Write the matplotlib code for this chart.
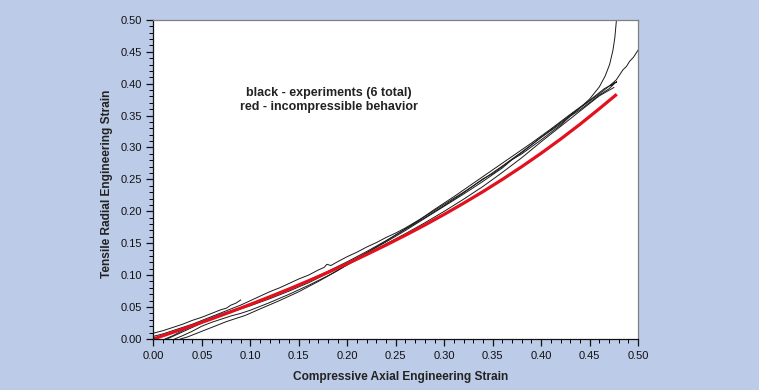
import matplotlib
matplotlib.use('Agg')
import matplotlib.pyplot as plt
from matplotlib.ticker import MultipleLocator, FormatStrFormatter

plt.rcParams['font.family'] = ['Liberation Sans', 'DejaVu Sans']

# incompressible behaviour (red)
red_x = [0.0, 0.02, 0.04, 0.06, 0.08, 0.10, 0.12, 0.14, 0.16, 0.18, 0.20, 0.22, 0.24,
         0.26, 0.28, 0.30, 0.32, 0.34, 0.36, 0.38, 0.40, 0.42, 0.44, 0.46, 0.478]
red_y = [0.0, 0.0102, 0.0206, 0.0314, 0.0426, 0.0541, 0.0660, 0.0783, 0.0911, 0.1043,
         0.1180, 0.1323, 0.1471, 0.1625, 0.1785, 0.1952, 0.2127, 0.2309, 0.2500, 0.2700,
         0.2910, 0.3131, 0.3363, 0.3608, 0.3834]

# experiments (black), 6 runs
exp1_x = [0.0, 0.01, 0.02, 0.03, 0.04, 0.05, 0.06, 0.07, 0.075, 0.08, 0.085, 0.09]
exp1_y = [0.009, 0.013, 0.018, 0.023, 0.029, 0.034, 0.040, 0.046, 0.048, 0.053, 0.056, 0.061]

exp2_x = [0.0, 0.01, 0.02, 0.03, 0.04, 0.05, 0.06, 0.07, 0.08, 0.09, 0.10, 0.11, 0.12,
          0.13, 0.14, 0.15, 0.16, 0.17, 0.176, 0.179, 0.183, 0.19, 0.20, 0.21, 0.22, 0.23,
          0.24, 0.25, 0.26, 0.28, 0.30, 0.32, 0.34, 0.36, 0.38, 0.40, 0.42, 0.44, 0.45,
          0.46, 0.466, 0.4706, 0.474, 0.476, 0.4775, 0.4785]
exp2_y = [0.004, 0.008, 0.013, 0.018, 0.023, 0.029, 0.035, 0.041, 0.047, 0.053, 0.060,
          0.067, 0.074, 0.080, 0.087, 0.094, 0.100, 0.108, 0.112, 0.117, 0.115, 0.121,
          0.129, 0.136, 0.144, 0.151, 0.159, 0.166, 0.174, 0.192, 0.211, 0.230, 0.250,
          0.271, 0.293, 0.316, 0.339, 0.362, 0.376, 0.395, 0.412, 0.430, 0.452, 0.472,
          0.497, 0.510]

exp3_x = [0.012, 0.02, 0.03, 0.04, 0.05, 0.06, 0.07, 0.08, 0.09, 0.10, 0.12, 0.14, 0.16,
          0.18, 0.20, 0.22, 0.24, 0.26, 0.28, 0.30, 0.32, 0.34, 0.35, 0.36, 0.38, 0.40,
          0.42, 0.44, 0.46, 0.47, 0.4775, 0.481, 0.4845, 0.488, 0.4912, 0.495, 0.498, 0.5015]
exp3_y = [0.0, 0.005, 0.013, 0.020, 0.027, 0.033, 0.039, 0.044, 0.049, 0.055, 0.067,
          0.079, 0.092, 0.106, 0.121, 0.137, 0.154, 0.172, 0.190, 0.209, 0.229, 0.251,
          0.259, 0.270, 0.292, 0.316, 0.337, 0.362, 0.384, 0.396, 0.406, 0.414, 0.422,
          0.427, 0.435, 0.441, 0.448, 0.456]

exp4_x = [0.014, 0.02, 0.03, 0.04, 0.05, 0.06, 0.07, 0.08, 0.09, 0.10, 0.12, 0.14, 0.16,
          0.18, 0.20, 0.22, 0.24, 0.26, 0.28, 0.30, 0.32, 0.34, 0.36, 0.37, 0.38, 0.40,
          0.42, 0.43, 0.44, 0.46, 0.47, 0.476, 0.473]
exp4_y = [0.0, 0.004, 0.011, 0.018, 0.025, 0.031, 0.037, 0.042, 0.047, 0.052, 0.063,
          0.075, 0.088, 0.103, 0.119, 0.135, 0.152, 0.170, 0.189, 0.208, 0.227, 0.247,
          0.268, 0.281, 0.290, 0.312, 0.335, 0.349, 0.359, 0.382, 0.392, 0.401, 0.398]

exp5_x = [0.022, 0.03, 0.04, 0.05, 0.06, 0.07, 0.08, 0.09, 0.10, 0.12, 0.14, 0.16, 0.18,
          0.20, 0.22, 0.24, 0.26, 0.28, 0.30, 0.32, 0.34, 0.36, 0.38, 0.40, 0.42, 0.44,
          0.46, 0.475]
exp5_y = [0.0, 0.005, 0.012, 0.020, 0.026, 0.031, 0.036, 0.040, 0.045, 0.057, 0.070,
          0.084, 0.099, 0.116, 0.132, 0.149, 0.165, 0.182, 0.200, 0.219, 0.239, 0.261,
          0.284, 0.309, 0.333, 0.357, 0.381, 0.394]

exp6_x = [0.028, 0.035, 0.045, 0.055, 0.065, 0.075, 0.085, 0.095, 0.11, 0.13, 0.15, 0.17,
          0.19, 0.21, 0.23, 0.25, 0.27, 0.29, 0.31, 0.33, 0.35, 0.37, 0.39, 0.41, 0.43,
          0.45, 0.465, 0.478, 0.472]
exp6_y = [0.0, 0.003, 0.009, 0.015, 0.021, 0.027, 0.032, 0.037, 0.047, 0.060, 0.074,
          0.090, 0.107, 0.126, 0.144, 0.163, 0.182, 0.203, 0.223, 0.244, 0.265, 0.286,
          0.307, 0.329, 0.352, 0.374, 0.392, 0.403, 0.397]

experiments = [(exp1_x, exp1_y), (exp2_x, exp2_y), (exp3_x, exp3_y),
               (exp4_x, exp4_y), (exp5_x, exp5_y), (exp6_x, exp6_y)]

bg = '#bccbe7'
fig = plt.figure(figsize=(7.59, 3.90), dpi=100, facecolor=bg)
ax = fig.add_axes([0.2022, 0.131, 0.6385, 0.818])
ax.set_facecolor('white')

for ex, ey in experiments:
    ax.plot(ex, ey, color='#1a1a1a', linewidth=0.7)
ax.plot(red_x, red_y, color='#e3101e', linewidth=2.3, solid_capstyle='butt')

ax.set_xlim(0, 0.5)
ax.set_ylim(0, 0.5)
ax.xaxis.set_major_locator(MultipleLocator(0.05))
ax.yaxis.set_major_locator(MultipleLocator(0.05))
ax.xaxis.set_minor_locator(MultipleLocator(0.01))
ax.yaxis.set_minor_locator(MultipleLocator(0.01))
ax.xaxis.set_major_formatter(FormatStrFormatter('%.2f'))
ax.yaxis.set_major_formatter(FormatStrFormatter('%.2f'))
ax.tick_params(which='major', direction='out', length=5, width=0.9, labelsize=8,
               colors='#111111', top=False, right=False)
ax.tick_params(which='minor', direction='out', length=3, width=0.7, top=False, right=False)
ax.tick_params(axis='x', pad=4)

for s in ['left', 'bottom']:
    ax.spines[s].set_color('#111111')
    ax.spines[s].set_linewidth(0.9)
for s in ['top', 'right']:
    ax.spines[s].set_color('#808080')
    ax.spines[s].set_linewidth(0.9)

ax.set_xlabel('Compressive Axial Engineering Strain', fontsize=8.6, fontweight='bold',
              color='#222222')
ax.set_ylabel('Tensile Radial Engineering Strain', fontsize=8.6, fontweight='bold',
              color='#222222')
ax.xaxis.set_label_coords(0.509, -0.100)
ax.yaxis.set_label_coords(-0.083, 0.487)

ax.text(0.181, 0.375, 'black - experiments (6 total)\nred - incompressible behavior',
        ha='center', va='center', fontsize=9, fontweight='bold', color='#222222',
        linespacing=1.2)

fig.savefig('out.png', dpi=100, facecolor=bg)
